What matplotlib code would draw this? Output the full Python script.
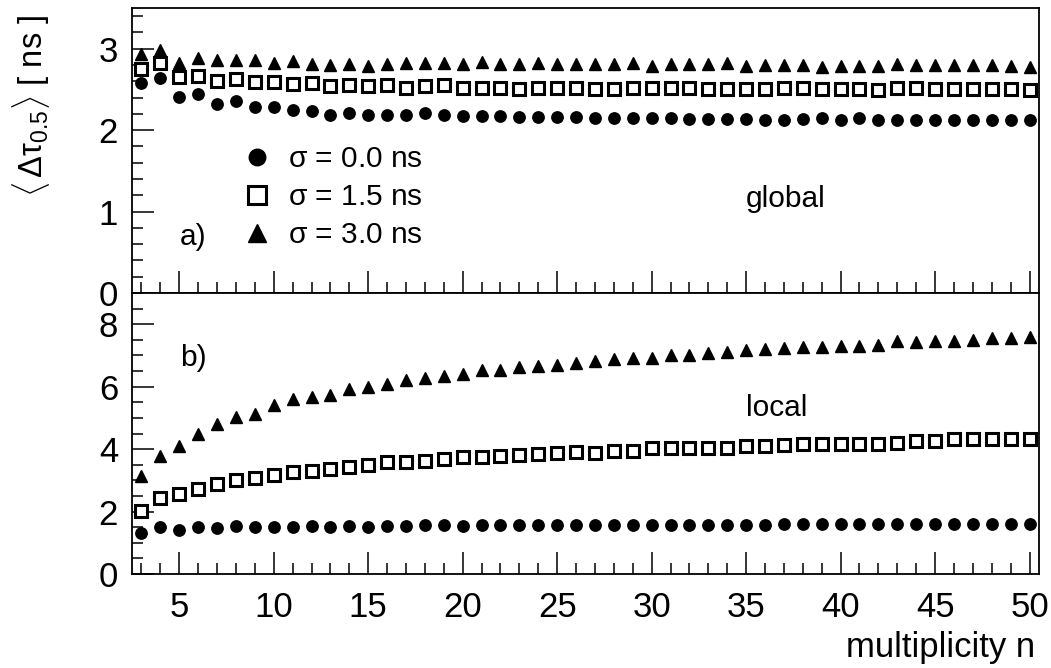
import matplotlib
matplotlib.use("Agg")
import matplotlib.pyplot as plt
from matplotlib.ticker import MultipleLocator
import numpy as np

plt.rcParams['font.family'] = ['Liberation Sans', 'DejaVu Sans']
plt.rcParams['mathtext.fontset'] = 'custom'
plt.rcParams['mathtext.rm'] = 'Liberation Sans'
plt.rcParams['mathtext.it'] = 'Liberation Sans'
plt.rcParams['mathtext.bf'] = 'Liberation Sans:bold'

n = list(range(3, 51))

# global (panel a)
glob_s00 = [2.58, 2.64, 2.41, 2.44, 2.32, 2.36, 2.28, 2.28, 2.25, 2.24, 2.19, 2.21, 2.18, 2.19, 2.18, 2.21,
            2.18, 2.17, 2.17, 2.17, 2.16, 2.16, 2.16, 2.16, 2.15, 2.15, 2.15, 2.15, 2.15, 2.14, 2.14, 2.14,
            2.14, 2.13, 2.13, 2.14, 2.15, 2.13, 2.15, 2.13, 2.13, 2.13, 2.13, 2.13, 2.13, 2.13, 2.12, 2.12]
glob_s15 = [2.75, 2.82, 2.65, 2.66, 2.60, 2.63, 2.59, 2.59, 2.57, 2.58, 2.54, 2.55, 2.54, 2.55, 2.52, 2.54,
            2.55, 2.52, 2.52, 2.52, 2.51, 2.52, 2.52, 2.52, 2.51, 2.51, 2.52, 2.52, 2.52, 2.52, 2.51, 2.51,
            2.51, 2.51, 2.52, 2.52, 2.50, 2.50, 2.50, 2.49, 2.52, 2.52, 2.50, 2.50, 2.50, 2.51, 2.51, 2.49]
glob_s30 = [2.93, 2.99, 2.83, 2.89, 2.86, 2.86, 2.86, 2.83, 2.85, 2.81, 2.80, 2.81, 2.79, 2.81, 2.83, 2.83,
            2.83, 2.81, 2.84, 2.81, 2.81, 2.83, 2.81, 2.81, 2.81, 2.81, 2.83, 2.79, 2.81, 2.81, 2.81, 2.82,
            2.79, 2.80, 2.80, 2.80, 2.77, 2.79, 2.79, 2.79, 2.81, 2.80, 2.80, 2.80, 2.80, 2.80, 2.79, 2.77]

# local (panel b)
loc_s00 = [1.30, 1.51, 1.42, 1.51, 1.46, 1.53, 1.49, 1.51, 1.51, 1.53, 1.49, 1.53, 1.51, 1.53, 1.53, 1.56,
           1.56, 1.53, 1.56, 1.56, 1.56, 1.56, 1.56, 1.58, 1.56, 1.56, 1.58, 1.58, 1.58, 1.58, 1.58, 1.58,
           1.58, 1.58, 1.59, 1.59, 1.59, 1.59, 1.59, 1.59, 1.59, 1.60, 1.60, 1.60, 1.60, 1.60, 1.61, 1.61]
loc_s15 = [2.02, 2.44, 2.55, 2.73, 2.87, 3.01, 3.08, 3.18, 3.26, 3.31, 3.37, 3.42, 3.50, 3.58, 3.58, 3.63,
           3.68, 3.74, 3.74, 3.77, 3.81, 3.84, 3.86, 3.90, 3.88, 3.93, 3.95, 4.03, 4.05, 4.03, 4.03, 4.05,
           4.11, 4.11, 4.14, 4.16, 4.16, 4.16, 4.16, 4.16, 4.21, 4.27, 4.25, 4.32, 4.32, 4.32, 4.32, 4.32]
loc_s30 = [3.15, 3.79, 4.11, 4.50, 4.80, 5.03, 5.14, 5.41, 5.59, 5.67, 5.73, 5.91, 6.00, 6.09, 6.20, 6.28,
           6.34, 6.41, 6.52, 6.53, 6.62, 6.66, 6.69, 6.76, 6.82, 6.90, 6.92, 6.92, 7.01, 7.03, 7.08, 7.11,
           7.19, 7.22, 7.24, 7.26, 7.26, 7.29, 7.29, 7.32, 7.45, 7.43, 7.47, 7.47, 7.51, 7.56, 7.56, 7.58]

labels = [r'$\sigma$ = 0.0 ns', r'$\sigma$ = 1.5 ns', r'$\sigma$ = 3.0 ns']

fig = plt.figure(figsize=(10.51, 6.68), dpi=100)
L, R = 132 / 1051, 1039 / 1051
ax1 = fig.add_axes([L, (668 - 293) / 668, R - L, (293 - 8) / 668])
ax2 = fig.add_axes([L, (668 - 574) / 668, R - L, (574 - 293) / 668])

def draw(ax, s0, s1, s2):
    h0, = ax.plot(n, s0, ls='none', marker='o', ms=8.2, color='black')
    h1, = ax.plot(n, s1, ls='none', marker='s', ms=9, mfc='white', mec='black', mew=2.2)
    h2, = ax.plot(n, s2, ls='none', marker='^', ms=9, color='black')
    return [h0, h1, h2]

hs = draw(ax1, glob_s00, glob_s15, glob_s30)
draw(ax2, loc_s00, loc_s15, loc_s30)

for ax in (ax1, ax2):
    ax.set_xlim(2.5, 50.5)
    ax.xaxis.set_major_locator(MultipleLocator(5))
    ax.xaxis.set_minor_locator(MultipleLocator(1))
    ax.tick_params(which='both', direction='in', top=False, right=False, labelsize=25, width=1.1)
    ax.tick_params(which='major', length=16)
    ax.tick_params(which='minor', length=8)
    ax.tick_params(axis='y', pad=10)
    ax.tick_params(axis='x', pad=12)
    for sp in ax.spines.values():
        sp.set_linewidth(1.3)

ax1.set_ylim(0, 3.5)
ax1.yaxis.set_major_locator(MultipleLocator(1))
ax1.yaxis.set_minor_locator(MultipleLocator(0.2))
ax1.tick_params(axis='x', labelbottom=False)

ax2.set_ylim(0, 9)
ax2.yaxis.set_major_locator(MultipleLocator(2))
ax2.yaxis.set_minor_locator(MultipleLocator(0.5))

ax1.legend(hs, labels, loc='upper left', bbox_to_anchor=(0.103, 0.57), frameon=False,
           fontsize=21.5, markerscale=1.45, handlelength=1.1, handletextpad=0.5,
           labelspacing=0.33, borderpad=0.0)

ax1.text(0.053, 0.197, 'a)', transform=ax1.transAxes, fontsize=21.5, va='center', ha='left')
ax1.text(0.677, 0.33, 'global', transform=ax1.transAxes, fontsize=21.5, va='center', ha='left')
ax2.text(0.053, 0.77, 'b)', transform=ax2.transAxes, fontsize=21.5, va='center', ha='left')
ax2.text(0.677, 0.59, 'local', transform=ax2.transAxes, fontsize=21.5, va='center', ha='left')

fig.text(1035 / 1051, 1 - 648 / 668, 'multiplicity n', fontsize=25, ha='right', va='center')
fig.text(31 / 1051, 1 - 106 / 668, r'$\langle\,\Delta\tau_{0.5}\rangle$ [ ns ]', fontsize=23.5,
         rotation=90, ha='center', va='center')

fig.savefig('out.png', dpi=100)
